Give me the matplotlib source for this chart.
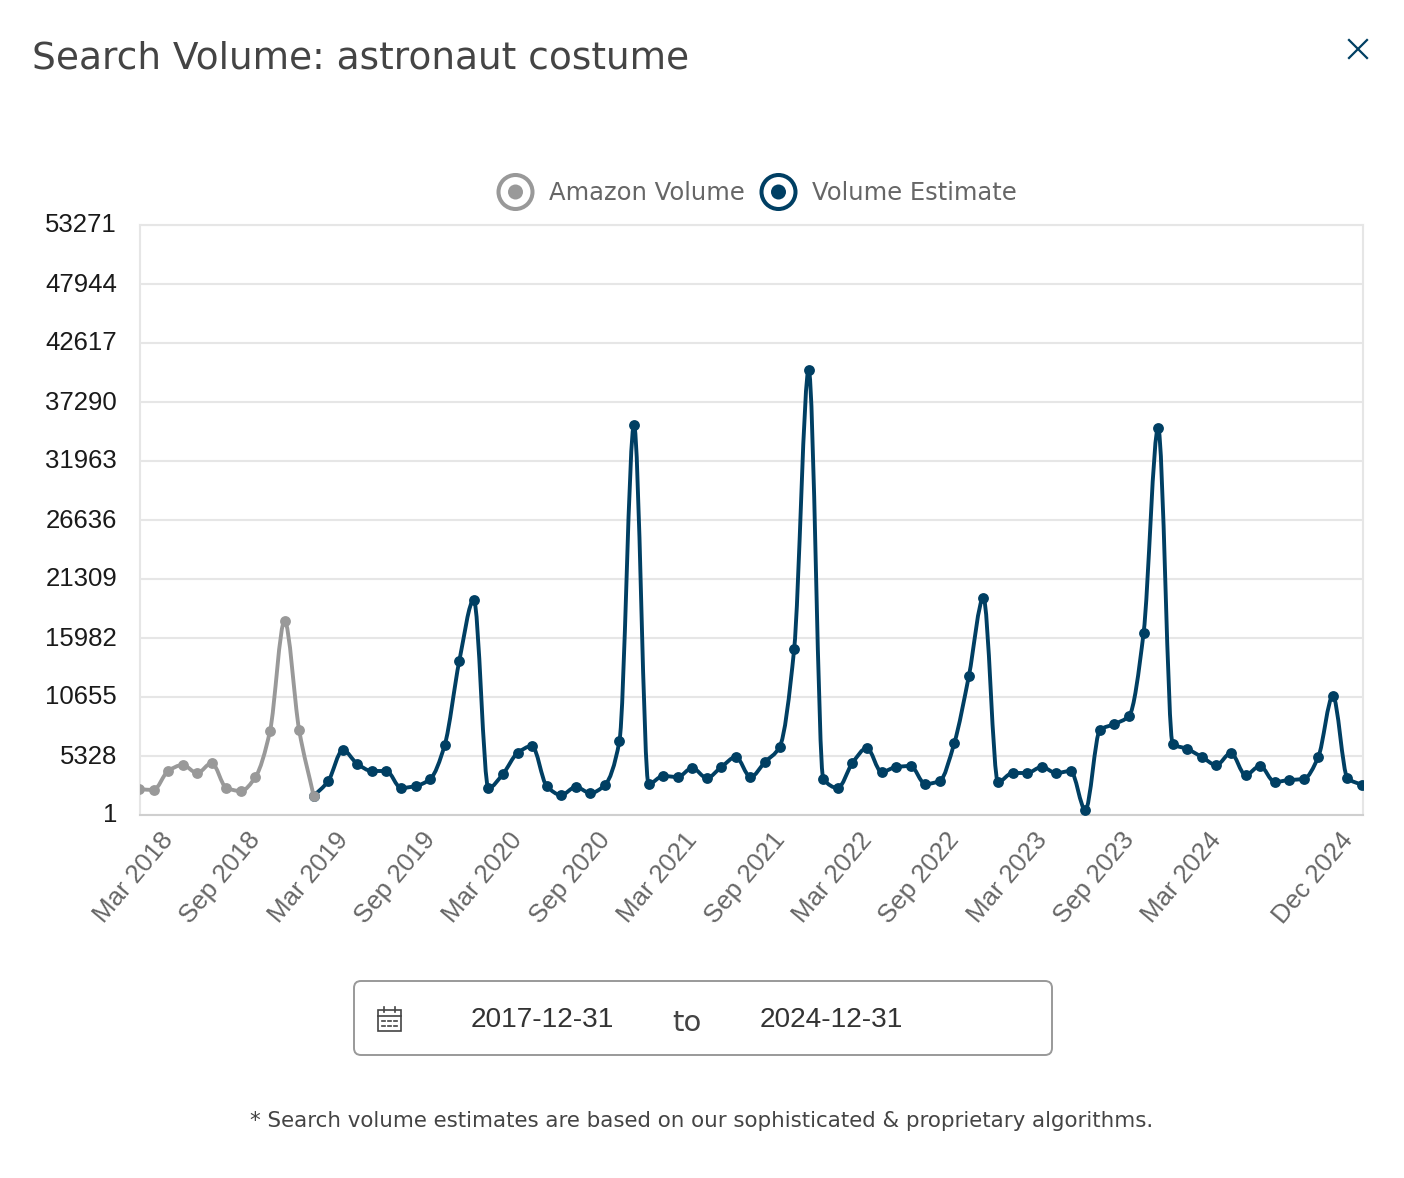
import numpy as np
import matplotlib
matplotlib.use('Agg')
import matplotlib.pyplot as plt
from matplotlib.path import Path
from matplotlib.patches import PathPatch, Circle, FancyBboxPatch, Rectangle
from matplotlib.transforms import ScaledTranslation

GRAY = '#999999'
BLUE = '#003f63'

amazon_volume = [2348, 2258, 3974, 4515, 3793, 4696, 2439, 2168, 3432, 7585, 17517, 7676, 1716]
volume_estimate = [1716, 3070, 5870, 4606, 3974, 3974, 2439, 2619, 3251, 6321, 13906, 19413,
                   2439, 3703, 5599, 6231, 2619, 1807, 2529, 1987, 2710, 6682, 35214, 2800,
                   3522, 3432, 4245, 3342, 4335, 5238, 3432, 4786, 6141, 14989, 40180, 3251,
                   2439, 4696, 6050, 3883, 4335, 4425, 2800, 3070, 6502, 12551, 19594, 2980,
                   3793, 3793, 4335, 3793, 3974, 452, 7676, 8217, 8940, 16434, 34943, 6412,
                   5960, 5238, 4515, 5599, 3612, 4425, 2980, 3161, 3251, 5238, 10746, 3342, 2710]
estimate_start = 12

y_ticks = [1, 5328, 10655, 15982, 21309, 26636, 31963, 37290, 42617, 47944, 53271]
x_positions = [3, 9, 15, 21, 27, 33, 39, 45, 51, 57, 63, 69, 75, 84]
x_labels = ['Mar 2018', 'Sep 2018', 'Mar 2019', 'Sep 2019', 'Mar 2020', 'Sep 2020', 'Mar 2021',
            'Sep 2021', 'Mar 2022', 'Sep 2022', 'Mar 2023', 'Sep 2023', 'Mar 2024', 'Dec 2024']


def smooth_path(x, y):
    # monotone cubic bezier segments, same curve the web chart uses
    x = np.array(x, dtype=float)
    y = np.array(y, dtype=float)
    d = np.diff(y) / np.diff(x)
    m = np.zeros(len(y))
    m[0] = d[0]
    m[-1] = d[-1]
    for i in range(1, len(y) - 1):
        if d[i - 1] * d[i] > 0:
            m[i] = 2 * d[i - 1] * d[i] / (d[i - 1] + d[i])
    verts = [(x[0], y[0])]
    codes = [Path.MOVETO]
    for i in range(len(y) - 1):
        h = (x[i + 1] - x[i]) / 3
        verts += [(x[i] + h, y[i] + m[i] * h), (x[i + 1] - h, y[i + 1] - m[i + 1] * h), (x[i + 1], y[i + 1])]
        codes += [Path.CURVE4] * 3
    return Path(verts, codes)


fig = plt.figure(figsize=(14.04, 11.78), dpi=100)
W, H = 1404.0, 1178.0

ax = fig.add_axes([140 / W, 1 - 815 / H, (1363 - 140) / W, 590 / H])
ax.set_xlim(0.07, 84.07)
ax.set_ylim(1, 53271)
ax.set_yticks(y_ticks)
ax.set_yticklabels([str(v) for v in y_ticks], family='Liberation Sans', fontsize=18.5, color='#1a1a1a')
ax.set_xticks(x_positions)
ax.set_xticklabels(x_labels, family='Liberation Sans', fontsize=18.6, color='#666666',
                   rotation=50, ha='right', va='top', rotation_mode='anchor')
ax.tick_params(axis='both', length=0)
ax.tick_params(axis='y', pad=16.5)
ax.tick_params(axis='x', pad=8)
# tick_params resets the label transforms, so the shifts go after it
offset = ScaledTranslation(-23 / 100, -2 / 100, fig.dpi_scale_trans)
for lab in ax.get_xticklabels():
    lab.set_transform(lab.get_transform() + offset)
up = ScaledTranslation(0, 2 / 100, fig.dpi_scale_trans)
for lab in ax.get_yticklabels():
    lab.set_transform(lab.get_transform() + up)
ax.grid(axis='y', color='#e6e6e6', linewidth=1.5)
ax.set_axisbelow(True)
for side in ['top', 'left', 'right']:
    ax.spines[side].set_color('#e6e6e6')
    ax.spines[side].set_linewidth(1.5)
ax.spines['bottom'].set_color('#cfcfcf')
ax.spines['bottom'].set_linewidth(1.5)

x_gray = list(range(len(amazon_volume)))
x_blue = list(range(estimate_start, estimate_start + len(volume_estimate)))
ax.add_patch(PathPatch(smooth_path(x_blue, volume_estimate), fill=False, edgecolor=BLUE, linewidth=2.8, zorder=3))
ax.plot(x_blue, volume_estimate, 'o', color=BLUE, markersize=7.8, markeredgewidth=0, zorder=4)
ax.add_patch(PathPatch(smooth_path(x_gray, amazon_volume), fill=False, edgecolor=GRAY, linewidth=2.8, zorder=5))
ax.plot(x_gray, amazon_volume, 'o', color=GRAY, markersize=7.8, markeredgewidth=0, zorder=6)

# everything around the chart, in pixel coordinates
ui = fig.add_axes([0, 0, 1, 1], zorder=10)
ui.set_xlim(0, W)
ui.set_ylim(H, 0)
ui.axis('off')

ui.text(32, 58.5, 'Search Volume: astronaut costume', family='DejaVu Sans', fontsize=27,
        color='#444444', va='center', ha='left')
ui.plot([1349, 1367], [40, 58], color=BLUE, linewidth=1.6)
ui.plot([1367, 1349], [40, 58], color=BLUE, linewidth=1.6)

# legend
ui.add_patch(Circle((515.5, 192), 17, fill=False, edgecolor=GRAY, linewidth=2.9))
ui.add_patch(Circle((515.5, 192), 7.5, color=GRAY, linewidth=0))
ui.text(549, 193.5, 'Amazon Volume', family='DejaVu Sans', fontsize=17.5, color='#666666', va='center')
ui.add_patch(Circle((778.5, 192), 17, fill=False, edgecolor=BLUE, linewidth=2.9))
ui.add_patch(Circle((778.5, 192), 7.5, color=BLUE, linewidth=0))
ui.text(812, 193.5, 'Volume Estimate', family='DejaVu Sans', fontsize=17.5, color='#666666', va='center')

# date box
ui.add_patch(FancyBboxPatch((360, 987), 686, 62, boxstyle='round,pad=6,rounding_size=7',
                            fill=False, edgecolor='#999999', linewidth=1.4))
ui.add_patch(Rectangle((378, 1010), 23, 21, fill=False, edgecolor='#444444', linewidth=1.2))
ui.plot([378, 401], [1016, 1016], color='#444444', linewidth=1.2)
ui.plot([384, 384], [1007, 1012], color='#444444', linewidth=1.2)
ui.plot([395, 395], [1007, 1012], color='#444444', linewidth=1.2)
for yy in [1021, 1026]:
    for xx in [383, 389, 395]:
        ui.plot([xx - 1.5, xx + 1.5], [yy, yy], color='#444444', linewidth=1.2)
ui.text(471, 1020, '2017-12-31', family='Liberation Sans', fontsize=20.2, color='#333333', va='center')
ui.text(672, 1023, 'to', family='DejaVu Sans', fontsize=21, color='#444444', va='center')
ui.text(760, 1020, '2024-12-31', family='Liberation Sans', fontsize=20.2, color='#333333', va='center')

ui.text(250, 1121, '* Search volume estimates are based on our sophisticated & proprietary algorithms.',
        family='DejaVu Sans', fontsize=15.4, color='#444444', va='center')

fig.savefig('out.png', dpi=100, facecolor='white')
